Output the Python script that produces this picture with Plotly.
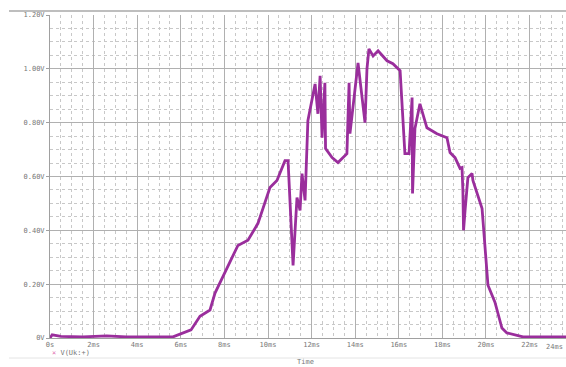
import plotly.graph_objects as go

# Time in ms, voltage in V
time_ms = [0.0, 0.1, 0.5, 1.5, 2.6, 3.5, 4.5, 5.64, 6.47, 6.88, 7.34, 7.57, 8.62, 9.08, 9.54,
           9.95, 10.09, 10.41, 10.78, 10.92, 11.15, 11.33, 11.47, 11.56, 11.70, 11.83, 12.16,
           12.29, 12.39, 12.48, 12.61, 12.64, 12.94, 13.21, 13.62, 13.72, 13.76, 14.13, 14.45,
           14.54, 14.63, 14.82, 15.05, 15.46, 15.73, 16.06, 16.28, 16.47, 16.61, 16.63, 16.74,
           16.97, 17.29, 17.75, 18.21, 18.35, 18.58, 18.81, 18.90, 18.94, 18.97, 19.04, 19.17,
           19.36, 19.40, 19.82, 19.95, 20.09, 20.41, 20.73, 20.96, 21.70, 23.70]
volts = [0.0, 0.012, 0.006, 0.004, 0.008, 0.004, 0.004, 0.004, 0.03, 0.081, 0.104, 0.167, 0.344,
         0.363, 0.426, 0.522, 0.559, 0.585, 0.659, 0.659, 0.270, 0.522, 0.474, 0.611, 0.511,
         0.807, 0.944, 0.833, 0.974, 0.744, 0.948, 0.704, 0.670, 0.652, 0.685, 0.948, 0.759,
         1.022, 0.800, 1.000, 1.074, 1.048, 1.067, 1.030, 1.019, 0.993, 0.685, 0.685, 0.893,
         0.537, 0.778, 0.870, 0.781, 0.759, 0.744, 0.689, 0.670, 0.630, 0.633, 0.548, 0.400,
         0.474, 0.596, 0.611, 0.585, 0.481, 0.333, 0.196, 0.133, 0.037, 0.019, 0.004, 0.004]

x_tickvals = [0, 2, 4, 6, 8, 10, 12, 14, 16, 18, 20, 22]
x_ticktext = ["0s", "2ms", "4ms", "6ms", "8ms", "10ms", "12ms", "14ms", "16ms", "18ms", "20ms", "22ms"]
y_tickvals = [0, 0.2, 0.4, 0.6, 0.8, 1.0, 1.2]
y_ticktext = ["0V", "0.20V", "0.40V", "0.60V", "0.80V", "1.00V", "1.20V"]
trace_name = "V(Uk:+)"

fig = go.Figure()
fig.add_trace(go.Scatter(x=time_ms, y=volts, mode="lines", name=trace_name,
                         line=dict(color="#9a2e9c", width=2.8), showlegend=False))

tickfont = dict(family="DejaVu Sans Mono", size=7, color="#777777")
fig.update_layout(
    width=566, height=367,
    margin=dict(l=50, r=0, t=15, b=29),
    paper_bgcolor="white", plot_bgcolor="white",
    xaxis=dict(range=[0, 23.67], tickvals=x_tickvals, ticktext=x_ticktext,
               showgrid=True, gridcolor="#b0b0b0", gridwidth=1,
               minor=dict(dtick=0.5, showgrid=True, gridcolor="#c8c8c8", griddash="dot"),
               zeroline=False, showline=True, linecolor="#a0a0a0",
               ticks="", tickfont=tickfont),
    yaxis=dict(range=[0, 1.2], tickvals=y_tickvals, ticktext=y_ticktext,
               showgrid=True, gridcolor="#b0b0b0", gridwidth=1,
               minor=dict(dtick=0.05, showgrid=True, gridcolor="#c8c8c8", griddash="dot"),
               zeroline=False, showline=True, linecolor="#a0a0a0",
               ticks="outside", ticklen=3, tickcolor="#a0a0a0", tickfont=tickfont),
)

W = 516.0
H = 323.0
# window frame lines
fig.add_shape(type="line", xref="paper", yref="paper", x0=(9 - 50) / W, x1=1.0,
              y0=1 + 4 / H, y1=1 + 4 / H, line=dict(color="#a8a8a8", width=1.5))
fig.add_shape(type="line", xref="paper", yref="paper", x0=(9 - 50) / W, x1=1.0,
              y0=-(358 - 338) / H, y1=-(358 - 338) / H, line=dict(color="#e4e4e4", width=1))

# 24ms label at the right edge
fig.add_annotation(xref="paper", yref="paper", x=(565 - 50) / W, y=-(347 - 338) / H,
                   text="24ms", showarrow=False, font=tickfont, xanchor="right", yanchor="middle")
# legend
fig.add_annotation(xref="paper", yref="paper", x=(50 - 50) / W, y=-(353 - 338) / H,
                   text="<span style='color:#e070b0'>\u00d7</span> " + trace_name, showarrow=False,
                   font=tickfont, xanchor="left", yanchor="middle")
# axis title
fig.add_annotation(xref="paper", yref="paper", x=(305 - 50) / W, y=-(362 - 338) / H,
                   text="Time", showarrow=False, font=tickfont, xanchor="center", yanchor="middle")

fig.write_html("out.html")
